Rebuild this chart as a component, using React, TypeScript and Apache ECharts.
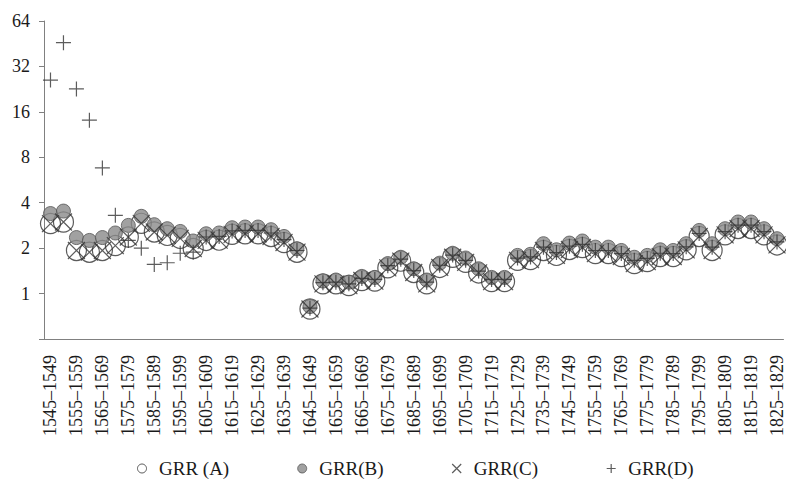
import React, { useEffect, useRef } from "react";
import * as echarts from "echarts";

const categories: string[] = [
  "1545–1549", "1550–1554", "1555–1559", "1560–1564", "1565–1569", "1570–1574",
  "1575–1579", "1580–1584", "1585–1589", "1590–1594", "1595–1599", "1600–1604",
  "1605–1609", "1610–1614", "1615–1619", "1620–1624", "1625–1629", "1630–1634",
  "1635–1639", "1640–1644", "1645–1649", "1650–1654", "1655–1659", "1660–1664",
  "1665–1669", "1670–1674", "1675–1679", "1680–1684", "1685–1689", "1690–1694",
  "1695–1699", "1700–1704", "1705–1709", "1710–1714", "1715–1719", "1720–1724",
  "1725–1729", "1730–1734", "1735–1739", "1740–1744", "1745–1749", "1750–1754",
  "1755–1759", "1760–1764", "1765–1769", "1770–1774", "1775–1779", "1780–1784",
  "1785–1789", "1790–1794", "1795–1799", "1800–1804", "1805–1809", "1810–1814",
  "1815–1819", "1820–1824", "1825–1829",
];

const grrA: number[] = [
  2.91, 2.98, 1.93, 1.88, 1.93, 2.08, 2.37, 2.92, 2.56, 2.43,
  2.32, 1.99, 2.25, 2.26, 2.47, 2.49, 2.49, 2.39, 2.18, 1.88,
  0.79, 1.16, 1.16, 1.13, 1.22, 1.21, 1.48, 1.64, 1.38, 1.16,
  1.49, 1.74, 1.61, 1.37, 1.2, 1.2, 1.66, 1.68, 1.93, 1.79,
  1.96, 2.02, 1.84, 1.84, 1.76, 1.58, 1.63, 1.76, 1.76, 1.95,
  2.39, 1.93, 2.45, 2.7, 2.7, 2.45, 2.1,
];

const grrB: number[] = [
  3.39, 3.52, 2.35, 2.25, 2.35, 2.52, 2.83, 3.25, 2.86, 2.69,
  2.58, 2.23, 2.49, 2.52, 2.73, 2.76, 2.76, 2.65, 2.39, 1.98,
  0.82, 1.21, 1.23, 1.19, 1.3, 1.28, 1.58, 1.74, 1.46, 1.23,
  1.59, 1.85, 1.72, 1.46, 1.28, 1.28, 1.79, 1.82, 2.14, 1.95,
  2.16, 2.23, 2.03, 2.03, 1.93, 1.74, 1.79, 1.95, 1.93, 2.14,
  2.62, 2.14, 2.69, 2.98, 2.98, 2.69, 2.31,
];

const grrC: number[] = [
  2.91, 2.98, 1.93, 1.88, 1.93, 2.08, 2.37, 2.92, 2.56, 2.43,
  2.32, 1.99, 2.25, 2.26, 2.47, 2.49, 2.49, 2.39, 2.18, 1.88,
  0.79, 1.16, 1.16, 1.13, 1.22, 1.21, 1.48, 1.64, 1.38, 1.16,
  1.49, 1.74, 1.61, 1.37, 1.2, 1.2, 1.66, 1.68, 1.93, 1.79,
  1.96, 2.02, 1.84, 1.84, 1.76, 1.58, 1.63, 1.76, 1.76, 1.95,
  2.39, 1.93, 2.45, 2.7, 2.7, 2.45, 2.1,
];

const grrD: number[] = [
  26, 46, 22.7, 14.1, 6.8, 3.3, 2.25, 2.0, 1.56, 1.6,
  1.85, 1.88, 2.37, 2.39, 2.6, 2.62, 2.62, 2.52, 2.28, 1.93,
  0.8, 1.18, 1.19, 1.16, 1.26, 1.24, 1.53, 1.69, 1.42, 1.19,
  1.54, 1.8, 1.66, 1.41, 1.24, 1.24, 1.72, 1.75, 2.03, 1.87,
  2.06, 2.12, 1.93, 1.93, 1.84, 1.66, 1.71, 1.85, 1.84, 2.04,
  2.5, 2.03, 2.57, 2.84, 2.84, 2.57, 2.2,
];

const seriesNames: string[] = ["GRR (A)", "GRR(B)", "GRR(C)", "GRR(D)"];

const FONT = "Liberation Serif";
const CROSS = "path://M0,0L10,10M10,0L0,10";
const PLUS = "path://M5,0L5,10M0,5L10,5";

export default function App() {
  const ref = useRef<HTMLDivElement>(null);

  useEffect(() => {
    if (!ref.current) return;
    const chart = echarts.init(ref.current, undefined, { renderer: "svg" });
    chart.setOption({
      animation: false,
      backgroundColor: "#ffffff",
      textStyle: { fontFamily: FONT, color: "#1a1a1a" },
      grid: { left: 44, right: 2, top: 21, bottom: 140, containLabel: false },
      legend: {
        left: 132,
        top: 454,
        itemWidth: 24,
        itemHeight: 9,
        itemGap: 68,
        symbolKeepAspect: true,
        textStyle: { fontFamily: FONT, fontSize: 19, color: "#1a1a1a" },
        data: [
          {
            name: seriesNames[0],
            icon: "circle",
            itemStyle: { color: "#ffffff", borderColor: "#333333", borderWidth: 1 },
          },
          {
            name: seriesNames[1],
            icon: "circle",
            itemStyle: { color: "#8a8a8a", borderColor: "#555555", borderWidth: 1 },
          },
          {
            name: seriesNames[2],
            icon: CROSS,
            itemStyle: { color: "transparent", borderColor: "#333333", borderWidth: 1.2 },
          },
          {
            name: seriesNames[3],
            icon: PLUS,
            itemStyle: { color: "transparent", borderColor: "#333333", borderWidth: 1.2 },
          },
        ],
      },
      xAxis: {
        type: "category",
        data: categories,
        boundaryGap: true,
        axisLine: { lineStyle: { color: "#808080", width: 1 } },
        axisTick: { interval: 0, length: 5, lineStyle: { color: "#808080" } },
        axisLabel: {
          interval: 1,
          rotate: 90,
          margin: 16,
          fontFamily: FONT,
          fontSize: 18,
          color: "#1a1a1a",
        },
        splitLine: { show: false },
      },
      yAxis: {
        type: "log",
        logBase: 2,
        min: 0.5,
        max: 64,
        splitNumber: 7,
        axisLine: { show: true, lineStyle: { color: "#808080", width: 1 } },
        axisTick: { show: true, length: 5, lineStyle: { color: "#808080" } },
        axisLabel: {
          margin: 14,
          fontFamily: FONT,
          fontSize: 18,
          color: "#1a1a1a",
          formatter: (v: number) => (v >= 1 ? String(Math.round(v)) : ""),
        },
        splitLine: { show: false },
      },
      series: [
        {
          name: seriesNames[0],
          type: "scatter",
          data: grrA,
          symbol: "circle",
          symbolSize: 20,
          itemStyle: { color: "transparent", borderColor: "#333333", borderWidth: 1.2 },
        },
        {
          name: seriesNames[1],
          type: "scatter",
          data: grrB,
          symbol: "circle",
          symbolSize: 14,
          itemStyle: { color: "#8a8a8a", borderColor: "#555555", borderWidth: 1 },
        },
        {
          name: seriesNames[2],
          type: "scatter",
          data: grrC,
          symbol: CROSS,
          symbolSize: 17,
          symbolKeepAspect: true,
          itemStyle: { color: "transparent", borderColor: "#333333", borderWidth: 1.2 },
        },
        {
          name: seriesNames[3],
          type: "scatter",
          data: grrD,
          symbol: PLUS,
          symbolSize: 15,
          symbolKeepAspect: true,
          itemStyle: { color: "transparent", borderColor: "#333333", borderWidth: 1.2 },
        },
      ],
    });
    return () => chart.dispose();
  }, []);

  return (
    <div
      ref={ref}
      style={{ position: "absolute", left: 0, top: 0, width: 786, height: 479 }}
    />
  );
}
